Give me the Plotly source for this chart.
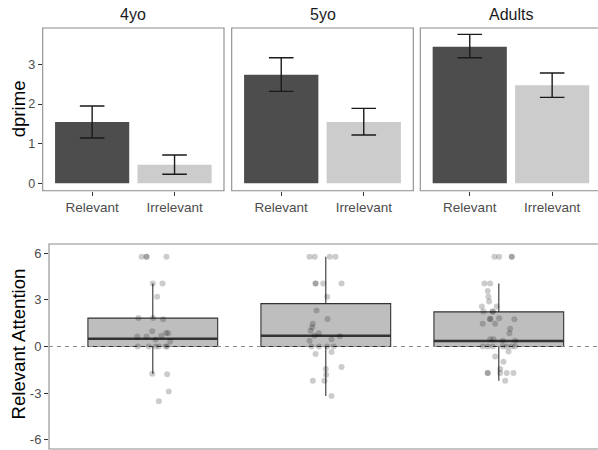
import plotly.graph_objects as go

# ---------------- data ----------------
groups = ["4yo", "5yo", "Adults"]
conditions = ["Relevant", "Irrelevant"]
dprime_mean = {"4yo": [1.546, 0.47], "5yo": [2.739, 1.546], "Adults": [3.445, 2.47]}
dprime_upper = {"4yo": [1.95, 0.714], "5yo": [3.168, 1.89], "Adults": [3.756, 2.781]}
dprime_lower = {"4yo": [1.143, 0.227], "5yo": [2.319, 1.218], "Adults": [3.168, 2.168]}

box_q1 = [0.0, 0.0, 0.0]
box_median = [0.5, 0.69, 0.35]
box_q3 = [1.83, 2.76, 2.23]
box_lower = [-1.75, -3.19, -2.2]
box_upper = [4.05, 5.78, 4.06]

g1_dx = [-0.065, -0.036, -0.036, 0.079, 0.0, 0.056, 0.025, -0.083, 0.002, 0.06, -0.003, 0.077, 0.089,
         -0.09, -0.036, 0.049, 0.016, 0.10, -0.087, -0.023, 0.016, 0.035, 0.074, 0.083, -0.003, 0.083,
         0.092, 0.035]
g1_y = [5.78, 5.78, 5.78, 5.78, 4.05, 4.05, 3.21, 1.84, 1.83, 1.76, 0.98, 0.87, 0.86, 0.64, 0.64, 0.69,
        0.45, 0.32, 0, 0, 0, 0, 0, 0, -1.75, -1.78, -2.89, -3.53]
g2_dx = [-0.094, -0.064, 0.023, 0.056, -0.059, -0.059, -0.015, 0.091, 0.008, -0.054, 0.01, -0.075, -0.079,
         -0.088, -0.04, -0.065, -0.094, 0.033, 0.081, -0.083, -0.04, 0.008, 0.046, -0.059, 0.033, 0.091,
         0.0, 0.002, -0.075, -0.008, 0.033]
g2_y = [5.78, 5.78, 5.78, 5.78, 4.05, 4.05, 4.05, 4.05, 3.21, 2.31, 1.77, 1.46, 1.24, 1.01, 0.86, 0.69,
        0.37, 0.47, 0.66, 0, 0, 0, 0, -0.48, -0.36, -1.32, -1.45, -1.82, -2.2, -2.2, -3.19]
g3_dx = [-0.025, 0.002, 0.075, 0.075, -0.083, -0.05, -0.064, -0.06, -0.056, -0.098, -0.012, -0.089, -0.035,
         -0.035, -0.05, -0.05, 0.002, 0.09, -0.093, -0.021, 0.065, 0.061, -0.05, -0.031, 0.023, 0.095,
         -0.093, -0.064, -0.035, 0.023, 0.046, 0.075, 0.095, 0.056, -0.021, 0.027, 0.008, -0.064, -0.064,
         0.008, 0.046, 0.085, 0.037]
g3_y = [5.78, 5.78, 5.78, 5.78, 4.06, 4.06, 3.58, 3.21, 2.89, 2.57, 2.57, 2.25, 2.25, 2.25, 1.77, 1.77,
        1.82, 1.76, 1.46, 1.46, 1.14, 0.86, 0.47, 0.47, 0.37, 0.37, 0, 0, 0, 0, 0, 0, 0, -0.32, -0.64,
        -0.99, -1.45, -1.71, -1.71, -1.71, -1.71, -1.71, -2.2]
jitter_dx = [g1_dx, g2_dx, g3_dx]
jitter_y = [g1_y, g2_y, g3_y]

top_ticks = [0, 1, 2, 3]
bottom_ticks = [-6, -3, 0, 3, 6]
bottom_tick_labels = ["-6", "-3", "0", "3", "6"]

# ---------------- layout geometry ----------------
W, H = 598, 450
FONT = "Liberation Sans, Arial, sans-serif"
bar_colors = ["#4D4D4D", "#CCCCCC"]
panel_px = [(42.7, 224.0), (231.7, 413.3), (420.3, 601.6)]
top_y_px = (28.0, 190.7)
bot_x_px = (49.0, 602.6)
bot_y_px = (244.0, 449.0)

def px_x(p):
    return min(p / W, 1.0)

def px_y(p):
    return 1 - p / H

fig = go.Figure()
layout = dict(width=W, height=H, margin=dict(l=0, r=0, t=0, b=0), autosize=False,
              paper_bgcolor="white", plot_bgcolor="white", showlegend=False,
              font=dict(family=FONT, color="#4D4D4D"))
annotations = []
shapes = []

for i, g in enumerate(groups):
    n = "" if i == 0 else str(i + 1)
    xa, ya = "x" + n, "y" + n
    means = dprime_mean[g]
    eplus = [u - m for u, m in zip(dprime_upper[g], means)]
    eminus = [m - l for m, l in zip(means, dprime_lower[g])]
    fig.add_trace(go.Bar(x=conditions, y=means, width=0.9, marker=dict(color=bar_colors, line=dict(width=0)),
                         error_y=dict(type="data", array=eplus, arrayminus=eminus, color="#1a1a1a",
                                      thickness=1.4, width=12.3),
                         xaxis=xa, yaxis=ya))
    x0p, x1p = panel_px[i]
    full_w = x1p - x0p
    vis_w = min(x1p, W) - x0p
    rng_hi = -0.6 + 2.2 * vis_w / full_w
    layout["xaxis" + n] = dict(domain=[px_x(x0p), px_x(x1p)], anchor=ya, type="category",
                               range=[-0.6, rng_hi], showgrid=False, zeroline=False, showline=False,
                               ticks="outside", ticklen=4, tickcolor="#333333", tickwidth=1,
                               tickfont=dict(size=13.5, color="#4D4D4D", family=FONT))
    layout["yaxis" + n] = dict(domain=[px_y(top_y_px[1]), px_y(top_y_px[0])], anchor=xa,
                               range=[-0.187, 3.917], showgrid=False, zeroline=False, showline=False,
                               tickvals=top_ticks, ticks="outside" if i == 0 else "",
                               ticklen=4, tickcolor="#333333", showticklabels=(i == 0),
                               tickfont=dict(size=12.5, color="#4D4D4D", family=FONT))
    shapes.append(dict(type="rect", xref="paper", yref="paper", x0=x0p / W, x1=x1p / W,
                       y0=px_y(top_y_px[1]), y1=px_y(top_y_px[0]),
                       line=dict(color="#8c8c8c", width=1.1), fillcolor="rgba(0,0,0,0)", layer="above"))
    annotations.append(dict(text=g, xref="paper", yref="paper", x=(x0p + x1p) / 2 / W, y=px_y(15),
                            showarrow=False, xanchor="center", yanchor="middle",
                            font=dict(size=16, color="#1a1a1a", family=FONT)))

# bottom panel
positions = [1, 2, 3]
fig.add_trace(go.Box(x=positions, q1=box_q1, median=box_median, q3=box_q3,
                     lowerfence=box_lower, upperfence=box_upper, width=0.75, whiskerwidth=0,
                     fillcolor="#BEBEBE", line=dict(color="#333333", width=1.1), boxpoints=False,
                     xaxis="x4", yaxis="y4"))
for i, pos in enumerate(positions):
    fig.add_trace(go.Scatter(x=[pos - 0.375, pos + 0.375], y=[box_median[i], box_median[i]], mode="lines",
                             line=dict(color="#333333", width=2.4), xaxis="x4", yaxis="y4",
                             hoverinfo="skip"))
for i, pos in enumerate(positions):
    fig.add_trace(go.Scatter(x=[pos + d for d in jitter_dx[i]], y=jitter_y[i], mode="markers",
                             marker=dict(size=6, color="rgba(0,0,0,0.2)", line=dict(width=0)),
                             xaxis="x4", yaxis="y4"))

vis_frac = (W - bot_x_px[0]) / (bot_x_px[1] - bot_x_px[0])
layout["xaxis4"] = dict(domain=[px_x(bot_x_px[0]), 1.0], anchor="y4", range=[0.4, 0.4 + 3.2 * vis_frac],
                        showgrid=False, zeroline=False, showline=False, showticklabels=False, ticks="")
layout["yaxis4"] = dict(domain=[px_y(bot_y_px[1]), px_y(bot_y_px[0])], anchor="x4", range=[-6.6, 6.6],
                        showgrid=False, zeroline=False, showline=False, tickvals=bottom_ticks,
                        ticktext=bottom_tick_labels,
                        ticks="outside", ticklen=4, tickcolor="#333333",
                        tickfont=dict(size=13, color="#4D4D4D", family=FONT))
shapes.append(dict(type="line", xref="paper", yref="y4", x0=bot_x_px[0] / W, x1=1.0, y0=0, y1=0,
                   line=dict(color="#8f8f8f", width=1.1, dash="4px,4px"), layer="above"))
shapes.append(dict(type="rect", xref="paper", yref="paper", x0=bot_x_px[0] / W, x1=bot_x_px[1] / W,
                   y0=px_y(bot_y_px[1]), y1=px_y(bot_y_px[0]),
                   line=dict(color="#8c8c8c", width=1.1), fillcolor="rgba(0,0,0,0)", layer="above"))

annotations.append(dict(text="dprime", xref="paper", yref="paper", x=18 / W,
                        y=px_y((top_y_px[0] + top_y_px[1]) / 2), textangle=-90, showarrow=False,
                        xanchor="center", yanchor="middle", font=dict(size=18.6, color="#000000", family=FONT)))
annotations.append(dict(text="Relevant Attention", xref="paper", yref="paper", x=17.5 / W,
                        y=px_y(344), textangle=-90, showarrow=False,
                        xanchor="center", yanchor="middle", font=dict(size=18.6, color="#000000", family=FONT)))

layout["annotations"] = annotations
layout["shapes"] = shapes
fig.update_layout(**layout)
fig.write_html("out.html", config={"displayModeBar": False},
               post_script="document.body.style.margin='0';document.body.style.overflow='hidden';")
